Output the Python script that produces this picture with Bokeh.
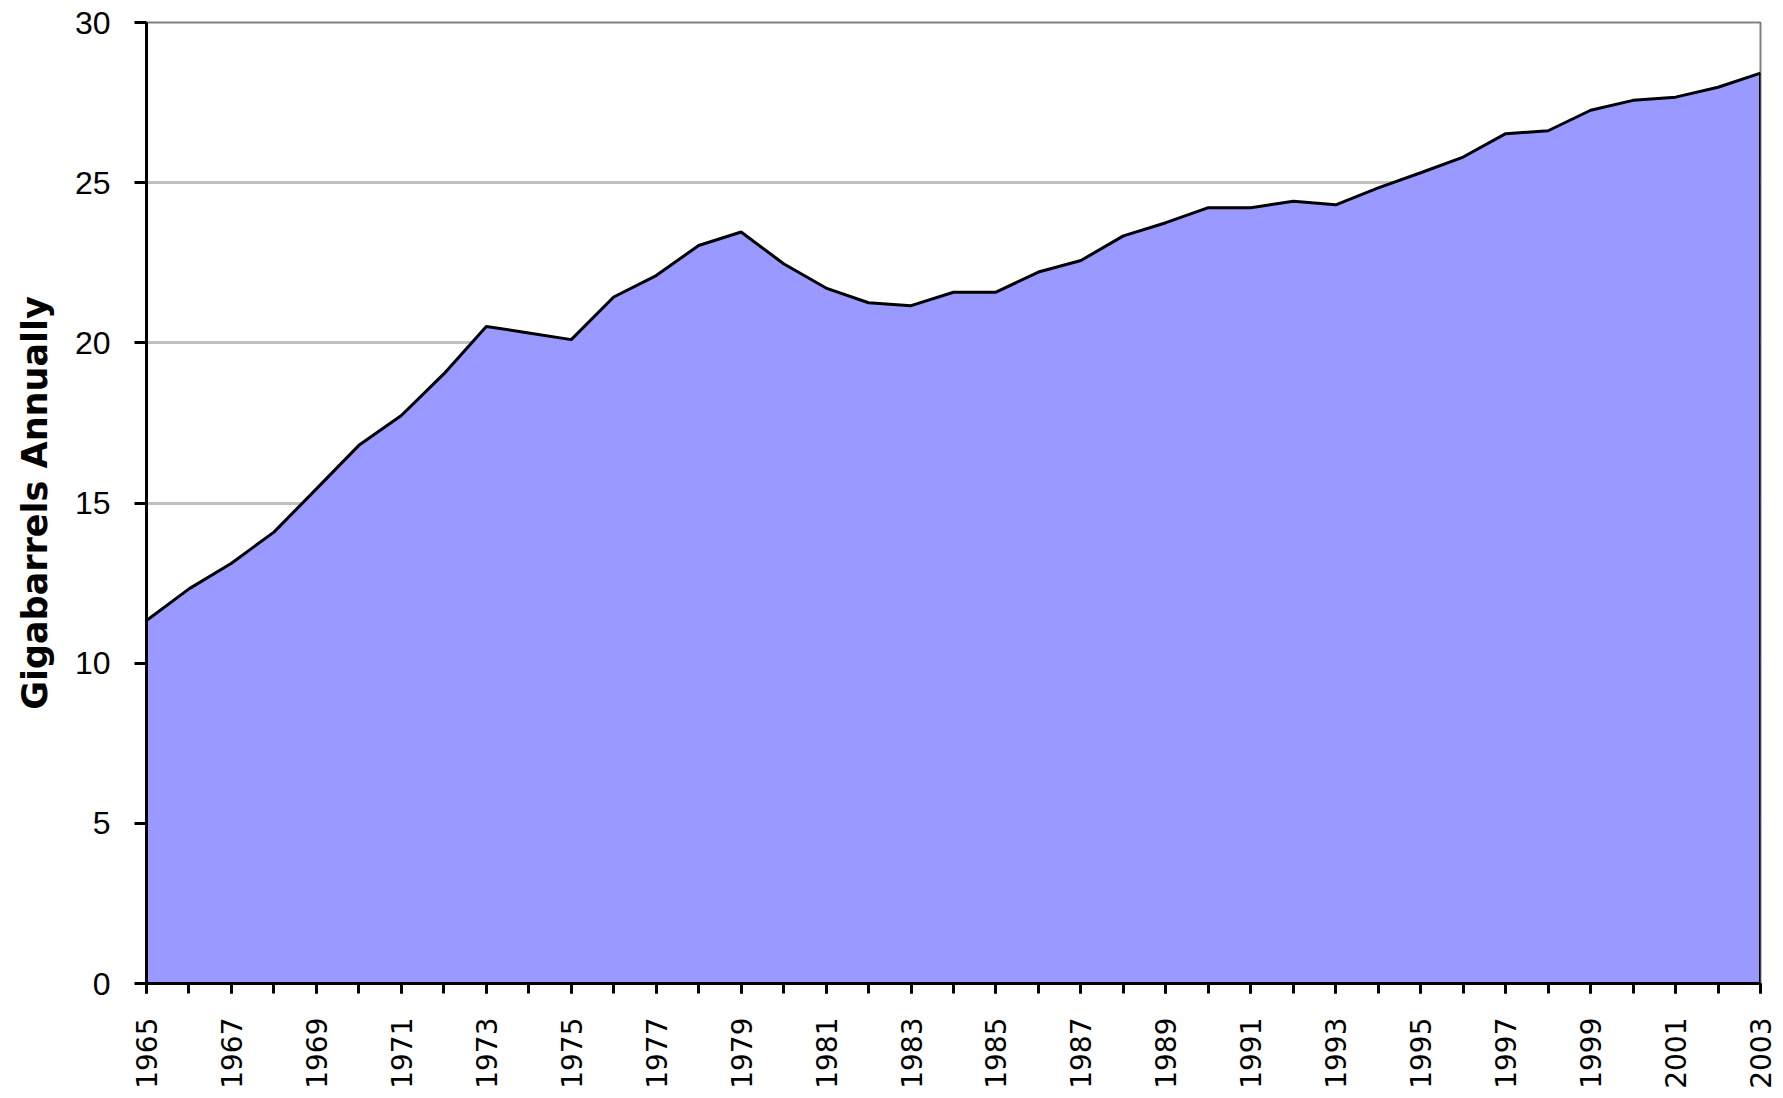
import math
from bokeh.plotting import figure
from bokeh.models import FixedTicker, Range1d
from bokeh.embed import file_html
from bokeh.resources import INLINE

years = list(range(1965, 2004))
consumption = [11.33, 12.32, 13.12, 14.09, 15.44, 16.80, 17.73, 19.03, 20.51, 20.31,
               20.10, 21.43, 22.10, 23.04, 23.46, 22.47, 21.71, 21.25, 21.16, 21.58,
               21.58, 22.21, 22.57, 23.34, 23.75, 24.22, 24.22, 24.42, 24.31, 24.84,
               25.31, 25.80, 26.53, 26.62, 27.26, 27.57, 27.67, 27.98, 28.42]
label_years = list(range(1965, 2004, 2))
x_tick_labels = [str(y) for y in label_years]
y_ticks = [0, 5, 10, 15, 20, 25, 30]
y_title = "Gigabarrels Annually"

p = figure(frame_width=1614, frame_height=961, output_backend="svg", toolbar_location=None,
           x_range=Range1d(years[0], years[-1]), y_range=Range1d(0, 30))
p.min_border_left = 146
p.min_border_right = 22
p.min_border_top = 22
p.min_border_bottom = 100

p.background_fill_color = "white"
p.border_fill_color = "white"
p.outline_line_color = "#808080"
p.outline_line_width = 2

p.varea(x=years, y1=[0] * len(years), y2=consumption, fill_color="#9999ff")
p.line(years, consumption, line_color="black", line_width=3)
p.segment(x0=[years[-1]], y0=[0], x1=[years[-1]], y1=[consumption[-1]],
          line_color="black", line_width=3)

p.xgrid.grid_line_color = None
p.ygrid.grid_line_color = "#c0c0c0"
p.ygrid.grid_line_width = 3
p.ygrid.ticker = FixedTicker(ticks=y_ticks)

# x axis
xa = p.xaxis[0]
xa.ticker = FixedTicker(ticks=label_years, minor_ticks=years)
xa.major_label_overrides = {y: s for y, s in zip(label_years, x_tick_labels)}
xa.major_label_orientation = math.pi / 2
xa.axis_line_color = "black"
xa.axis_line_width = 3
xa.major_tick_line_color = "black"
xa.major_tick_line_width = 3
xa.major_tick_out = 10
xa.major_tick_in = 0
xa.minor_tick_line_color = "black"
xa.minor_tick_line_width = 3
xa.minor_tick_out = 10
xa.minor_tick_in = 0
xa.major_label_text_font = "DejaVu Sans"
xa.major_label_text_font_size = "28px"
xa.major_label_text_color = "black"
xa.major_label_standoff = 24

# y axis
ya = p.yaxis[0]
ya.ticker = FixedTicker(ticks=y_ticks)
ya.axis_line_color = "black"
ya.axis_line_width = 3
ya.major_tick_line_color = "black"
ya.major_tick_line_width = 3
ya.major_tick_out = 12
ya.major_tick_in = 0
ya.minor_tick_line_color = None
ya.major_label_text_font = "Liberation Sans"
ya.major_label_text_font_size = "32px"
ya.major_label_text_color = "black"
ya.major_label_standoff = 24
ya.axis_label = y_title
ya.axis_label_text_font = "DejaVu Sans"
ya.axis_label_text_font_style = "bold"
ya.axis_label_text_font_size = "35px"
ya.axis_label_text_color = "black"
ya.axis_label_standoff = 17

open("out.html", "w").write(file_html(p, INLINE))
